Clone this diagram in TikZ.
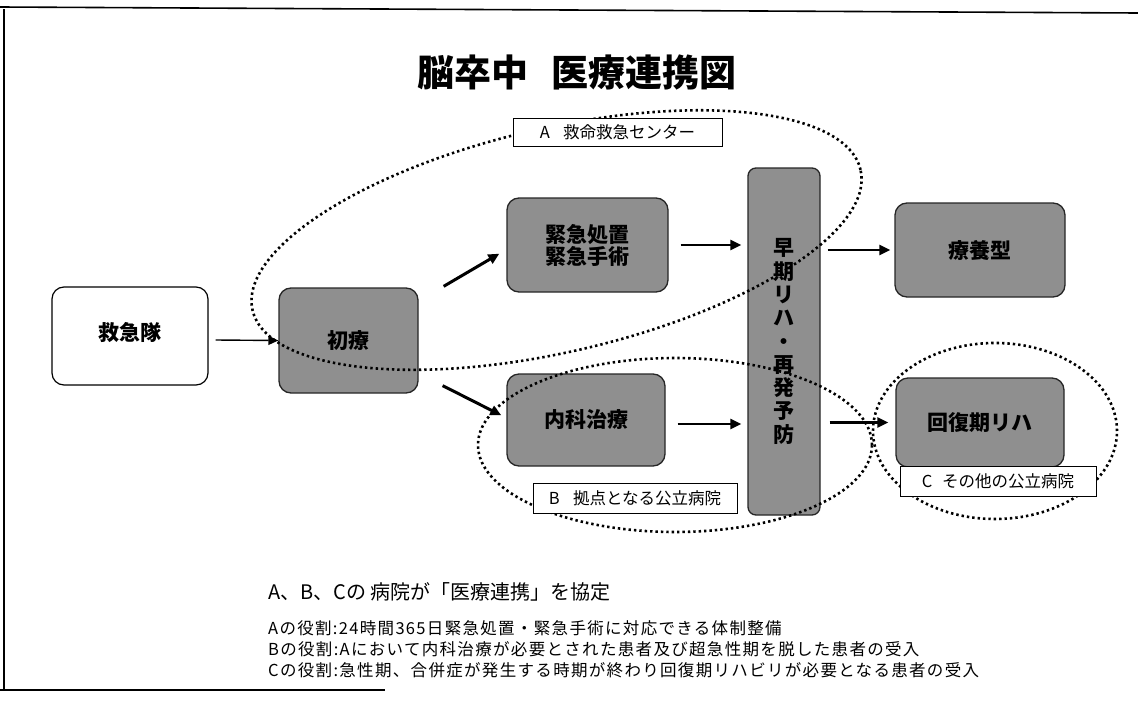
\documentclass[tikz,border=0pt]{standalone}
\usepackage{fontspec}
\setmainfont{Noto Sans CJK JP}
\usetikzlibrary{arrows.meta,calc}
\begin{document}
\begin{tikzpicture}[x=1pt,y=-1pt,
  gbox/.style={draw=black!85, line width=1.3pt, fill=black!44, rounded corners=12pt, inner sep=0pt, font=\fontsize{21}{22}\selectfont\bfseries},
  wbox/.style={draw, line width=1.2pt, fill=white, rounded corners=12pt, inner sep=0pt, font=\fontsize{21}{22}\selectfont\bfseries},
  lbl/.style={draw, line width=1pt, fill=white, inner sep=0pt, font=\fontsize{16.5}{18}\selectfont},
  dots/.style={line width=2.6pt, dash pattern=on 2.4pt off 3pt},
  arr/.style={-{Triangle[length=11pt,width=10pt]}, line width=2.6pt},
  arrthin/.style={-{Triangle[length=10pt,width=9pt]}, line width=1.4pt},
  txt/.style={inner sep=0pt, anchor=west},
  role/.style={txt, font=\fontsize{16.5}{18}\selectfont\addfontfeature{LetterSpace=8}}]
\useasboundingbox (0,0) rectangle (1138,704);
% frame
\draw[line width=1.6pt] (0,7) -- (1138,13);
\draw[line width=1.6pt] (4,9) -- (4,690);
\draw[line width=1.6pt] (0,690) -- (385,690);
% title
\node[inner sep=0pt, font=\fontsize{37}{40}\selectfont\bfseries] (title) at (577,72) {脳卒中\hspace{0.6em}医療連携図};
% boxes
\node[wbox, minimum width=156pt, minimum height=98pt] (kyu) at (130,336) {\raisebox{10pt}{救急隊}};
\node[gbox, minimum width=139pt, minimum height=105pt] (sho) at (348.5,340.5) {初療};
\node[gbox, minimum width=161pt, minimum height=94pt, align=center] (kin) at (587.5,245) {緊急処置\\緊急手術};
\node[gbox, minimum width=158pt, minimum height=92pt] (nai) at (586,420) {内科治療};
\node[gbox, minimum width=72pt, minimum height=347pt, rounded corners=8pt, align=center, font=\fontsize{21}{23.3}\selectfont\bfseries] (sou) at (784,341.5) {\raisebox{10pt}{\parbox{1em}{\centering 早\\期\\リ\\ハ\\・\\再\\発\\予\\防}}};
\node[gbox, minimum width=170pt, minimum height=94pt] (ryo) at (980,250) {療養型};
\node[gbox, minimum width=168pt, minimum height=89pt] (kai) at (980,422.5) {回復期リハ};
% arrows
\draw[arrthin] ($(kyu.east)+(7,4)$) -- (sho.west);
\draw[arr, line width=3pt] ($(sho.north east)+(25,-1)$) -- ($(kin.south west)+(-7,-39)$);
\draw[arr, line width=3pt] ($(sho.south east)+(24,-8)$) -- ($(nai.north west)+(-5,42)$);
\draw[arr, shorten <=12pt, shorten >=6pt] (kin.east) -- (kin.east -| sou.west);
\draw[arr, shorten <=12pt, shorten >=6pt] ($(nai.east)+(0,4)$) -- ($(nai.east -| sou.west)+(0,4)$);
\draw[arr, shorten <=7pt, shorten >=4pt] (ryo.west -| sou.east) -- (ryo.west);
\draw[arr, shorten <=9pt, shorten >=7pt] (kai.west -| sou.east) -- (kai.west);
% dotted groups
\draw[dots, rotate around={13:(557,242)}] (557,240) ellipse [x radius=312pt, y radius=112pt];
\draw[dots] (675,445) ellipse [x radius=197pt, y radius=87pt];
\draw[dots] (995,431) ellipse [x radius=122pt, y radius=88pt];
% labels
\node[lbl, minimum width=209pt, minimum height=28pt] (la) at (617.5,132) {A\hspace{0.8em}救命救急センター};
\node[lbl, minimum width=204pt, minimum height=30pt] (lb) at (635,498) {B\hspace{0.8em}拠点となる公立病院};
\node[lbl, minimum width=196pt, minimum height=30pt] (lc) at (998,481.5) {C\hspace{0.6em}その他の公立病院};
% bottom text
\node[txt, font=\fontsize{20}{22}\selectfont] (t0) at (268,592) {A、B、Cの 病院が「医療連携」を協定};
\node[role] (t1) at (268,628) {Aの役割:24時間365日緊急処置・緊急手術に対応できる体制整備};
\node[role] (t2) at (268,649) {Bの役割:Aにおいて内科治療が必要とされた患者及び超急性期を脱した患者の受入};
\node[role] (t3) at (268,670) {Cの役割:急性期、合併症が発生する時期が終わり回復期リハビリが必要となる患者の受入};
\end{tikzpicture}
\end{document}
